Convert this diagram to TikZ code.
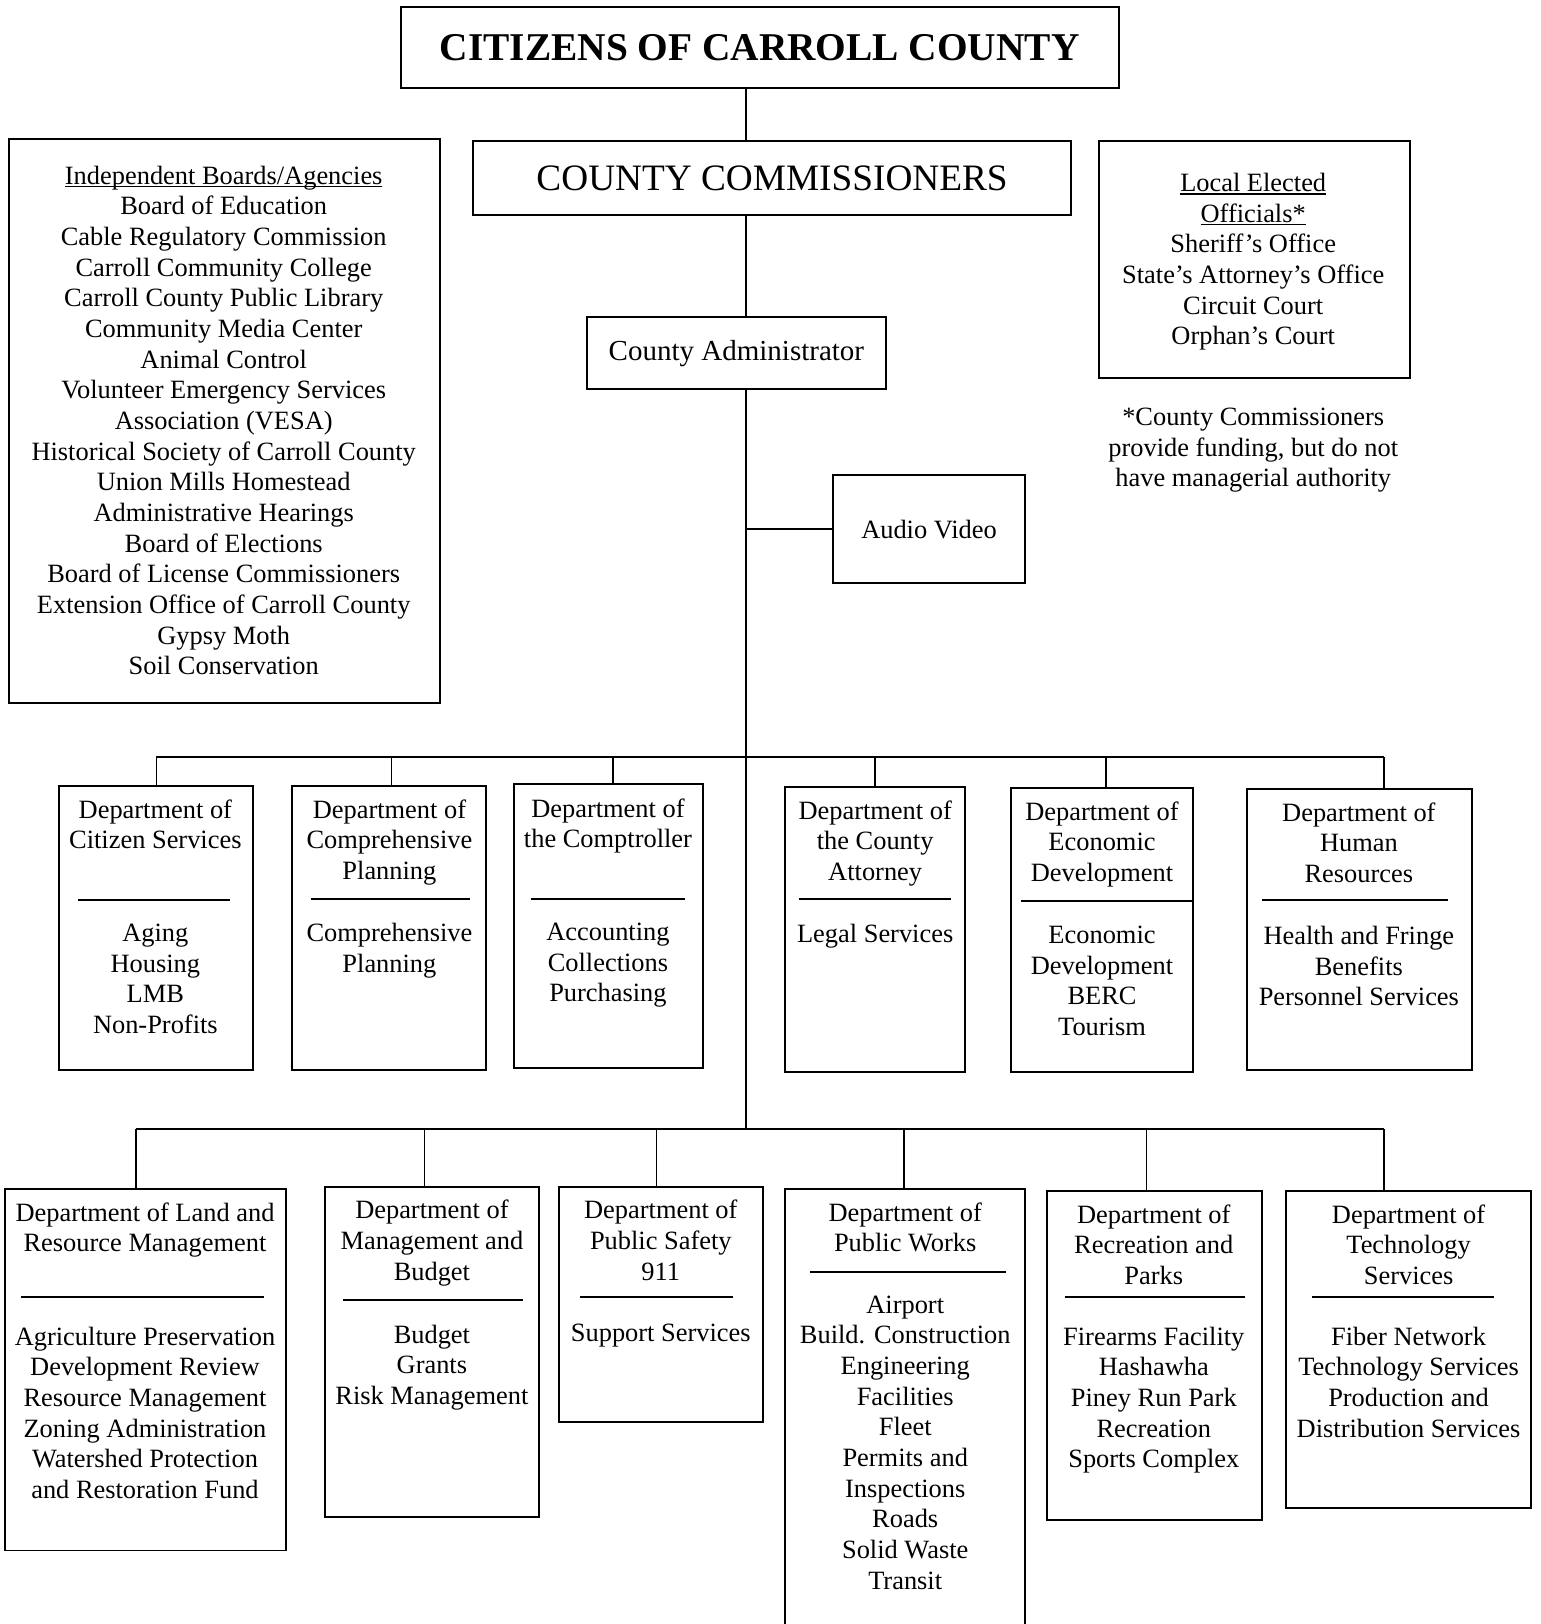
\documentclass[tikz,border=0pt]{standalone}
\usepackage{fontspec}
\setmainfont{Liberation Serif}
\newcommand\bodyfont{\fontsize{25.5}{29.6}\selectfont}
\newcommand\NL{\\\strut}
\newcommand\myul[1]{\setbox0\hbox{#1}\rlap{\rule[-3pt]{\wd0}{1.4pt}}\box0}
\tikzset{
  box/.style={draw, line width=1.9pt, rectangle, inner sep=0pt, outer sep=0pt, anchor=north west, font=\bodyfont},
  boxline/.style={line width=1.9pt},
  con/.style={line width=1.6pt},
  bus/.style={line width=2.1pt},
  sepline/.style={line width=1.9pt},
  lines/.style={anchor=north, inner sep=0pt, align=center, font=\bodyfont, yshift=13pt}
}
\begin{document}
\begin{tikzpicture}[x=1pt,y=-1pt]
\useasboundingbox (0,0) rectangle (1487,1568);

% top boxes
\node[box, minimum width=693pt, minimum height=78pt, font=\fontsize{38}{44}\selectfont\bfseries] (citizens) at (387,7) {CITIZENS OF CARROLL COUNTY};
\node[box, minimum width=577pt, minimum height=72pt, font=\fontsize{36}{42}\selectfont] (comm) at (457,136) {COUNTY COMMISSIONERS};
\node[box, minimum width=288pt, minimum height=70pt, font=\fontsize{28}{33}\selectfont] (admin) at (567,306) {County Administrator};
\node[box, minimum width=186pt, minimum height=104pt] (audio) at (804,459) {Audio Video};

% side boxes
\node[box, minimum width=416pt, minimum height=545pt] (indep) at (9,134) {};
\node[lines] (indep-t) at (216,170) {\strut\myul{Independent Boards/Agencies}\NL Board of Education\NL Cable Regulatory Commission\NL Carroll Community College\NL Carroll County Public Library\NL Community Media Center\NL Animal Control\NL Volunteer Emergency Services\NL Association (VESA)\NL Historical Society of Carroll County\NL Union Mills Homestead\NL Administrative Hearings\NL Board of Elections\NL Board of License Commissioners\NL Extension Office of Carroll County\NL Gypsy Moth\NL Soil Conservation};

\node[box, minimum width=300pt, minimum height=229pt] (local) at (1061,136) {};
\node[lines] (local-t) at (1210,177) {\strut\myul{Local Elected}\NL\myul{Officials*}\NL Sheriff’s Office\NL State’s Attorney’s Office\NL Circuit Court\NL Orphan’s Court};
\node[lines] (note) at (1210,403) {\strut *County Commissioners\NL provide funding, but do not\NL have managerial authority};

% trunk
\coordinate (trunk) at (720,0);
\coordinate (b1l) at (151,731);
\coordinate (b1r) at (1336,731);
\coordinate (b2l) at (131,1090);
\coordinate (b2r) at (1336,1090);
\coordinate (b2c) at (720,1090);
\draw[con] (citizens.south -| trunk) -- (comm.north -| trunk);
\draw[con] (comm.south -| trunk) -- (admin.north -| trunk);
\draw[con] (admin.south -| trunk) -- (b2c);
\draw[con] (trunk |- audio.west) -- (audio.west);

% row 1 boxes
\node[box, minimum width=187pt, minimum height=274pt] (cs) at (57,759) {};
\node[box, minimum width=187pt, minimum height=274pt] (cp) at (282,759) {};
\node[box, minimum width=183pt, minimum height=274pt] (ct) at (496,757) {};
\node[box, minimum width=174pt, minimum height=275pt] (ca) at (758,760) {};
\node[box, minimum width=176pt, minimum height=274pt] (ed) at (976,761) {};
\node[box, minimum width=217pt, minimum height=271pt] (hr) at (1204,762) {};

\node[lines] (cs-t) at (150,782) {\strut Department of\NL Citizen Services};
\draw[sepline] (75,869) -- (222,869);
\node[lines] (cs-i) at (150,901) {\strut Aging\NL Housing\NL LMB\NL Non-Profits};

\node[lines] (cp-t) at (376,782) {\strut Department of\NL Comprehensive\NL Planning};
\draw[sepline] (300,868) -- (454,868);
\node[lines] (cp-i) at (376,901) {\strut Comprehensive\NL Planning};

\node[lines] (ct-t) at (587,781) {\strut Department of\NL the Comptroller};
\draw[sepline] (513,868) -- (661,868);
\node[lines] (ct-i) at (587,900) {\strut Accounting\NL Collections\NL Purchasing};

\node[lines] (ca-t) at (845,783) {\strut Department of\NL the County\NL Attorney};
\draw[sepline] (771,868) -- (918,868);
\node[lines] (ca-i) at (845,902) {\strut Legal Services};

\node[lines] (ed-t) at (1064,784) {\strut Department of\NL Economic\NL Development};
\draw[sepline] (986,870) -- (1152,870);
\node[lines] (ed-i) at (1064,903) {\strut Economic\NL Development\NL BERC\NL Tourism};

\node[lines] (hr-t) at (1312,785) {\strut Department of\NL Human\NL Resources};
\draw[sepline] (1218,869) -- (1398,869);
\node[lines] (hr-i) at (1312,904) {\strut Health and Fringe\NL Benefits\NL Personnel Services};

% bus 1
\draw[bus] (b1l) -- (b1r);
\coordinate (d12) at (378,731);
\coordinate (d13) at (592,731);
\coordinate (d14) at (845,731);
\coordinate (d15) at (1068,731);
\draw[con] (b1l) -- (b1l |- cs.north);
\draw[con] (d12) -- (d12 |- cp.north);
\draw[con] (d13) -- (d13 |- ct.north);
\draw[con] (d14) -- (d14 |- ca.north);
\draw[con] (d15) -- (d15 |- ed.north);
\draw[con] (b1r) -- (b1r |- hr.north);

% row 2 boxes
\node[box, minimum width=271pt, minimum height=349pt] (lr) at (5,1148) {};
\node[box, minimum width=206pt, minimum height=319pt] (mb) at (314,1146) {};
\node[box, minimum width=197pt, minimum height=227pt] (ps) at (540,1146) {};
\node[box, draw=none, minimum width=232pt, minimum height=440pt] (pw) at (758,1148) {};
\draw[boxline] (pw.south west) -- (pw.north west) -- (pw.north east) -- (pw.south east);
\node[box, minimum width=207pt, minimum height=318pt] (rp) at (1011,1150) {};
\node[box, minimum width=236pt, minimum height=306pt] (ts) at (1242,1150) {};

\node[lines] (lr-t) at (140,1171) {\strut Department of Land and\NL Resource Management};
\draw[sepline] (20,1252) -- (255,1252);
\node[lines] (lr-i) at (140,1291) {\strut Agriculture Preservation\NL Development Review\NL Resource Management\NL Zoning Administration\NL Watershed Protection\NL and Restoration Fund};

\node[lines] (mb-t) at (417,1169) {\strut Department of\NL Management and\NL Budget};
\draw[sepline] (331,1255) -- (505,1255);
\node[lines] (mb-i) at (417,1289) {\strut Budget\NL Grants\NL Risk Management};

\node[lines] (ps-t) at (638,1169) {\strut Department of\NL Public Safety\NL 911};
\draw[sepline] (560,1252) -- (708,1252);
\node[lines] (ps-i) at (638,1287) {\strut Support Services};

\node[lines] (pw-t) at (874,1171) {\strut Department of\NL Public Works};
\draw[sepline] (782,1228) -- (971,1228);
\node[lines] (pw-i) at (874,1260) {\strut Airport\NL Build. Construction\NL Engineering\NL Facilities\NL Fleet\NL Permits and\NL Inspections\NL Roads\NL Solid Waste\NL Transit};

\node[lines] (rp-t) at (1114,1173) {\strut Department of\NL Recreation and\NL Parks};
\draw[sepline] (1028,1252) -- (1202,1252);
\node[lines] (rp-i) at (1114,1291) {\strut Firearms Facility\NL Hashawha\NL Piney Run Park\NL Recreation\NL Sports Complex};

\node[lines] (ts-t) at (1360,1173) {\strut Department of\NL Technology\NL Services};
\draw[sepline] (1267,1252) -- (1442,1252);
\node[lines] (ts-i) at (1360,1291) {\strut Fiber Network\NL Technology Services\NL Production and\NL Distribution Services};

% bus 2
\draw[bus] (b2l) -- (b2r);
\coordinate (d22) at (410,1090);
\coordinate (d23) at (634,1090);
\coordinate (d24) at (873,1090);
\coordinate (d25) at (1107,1090);
\draw[con] (b2l) -- (b2l |- lr.north);
\draw[con] (d22) -- (d22 |- mb.north);
\draw[con] (d23) -- (d23 |- ps.north);
\draw[con] (d24) -- (d24 |- pw.north);
\draw[con] (d25) -- (d25 |- rp.north);
\draw[con] (b2r) -- (b2r |- ts.north);
\end{tikzpicture}
\end{document}
